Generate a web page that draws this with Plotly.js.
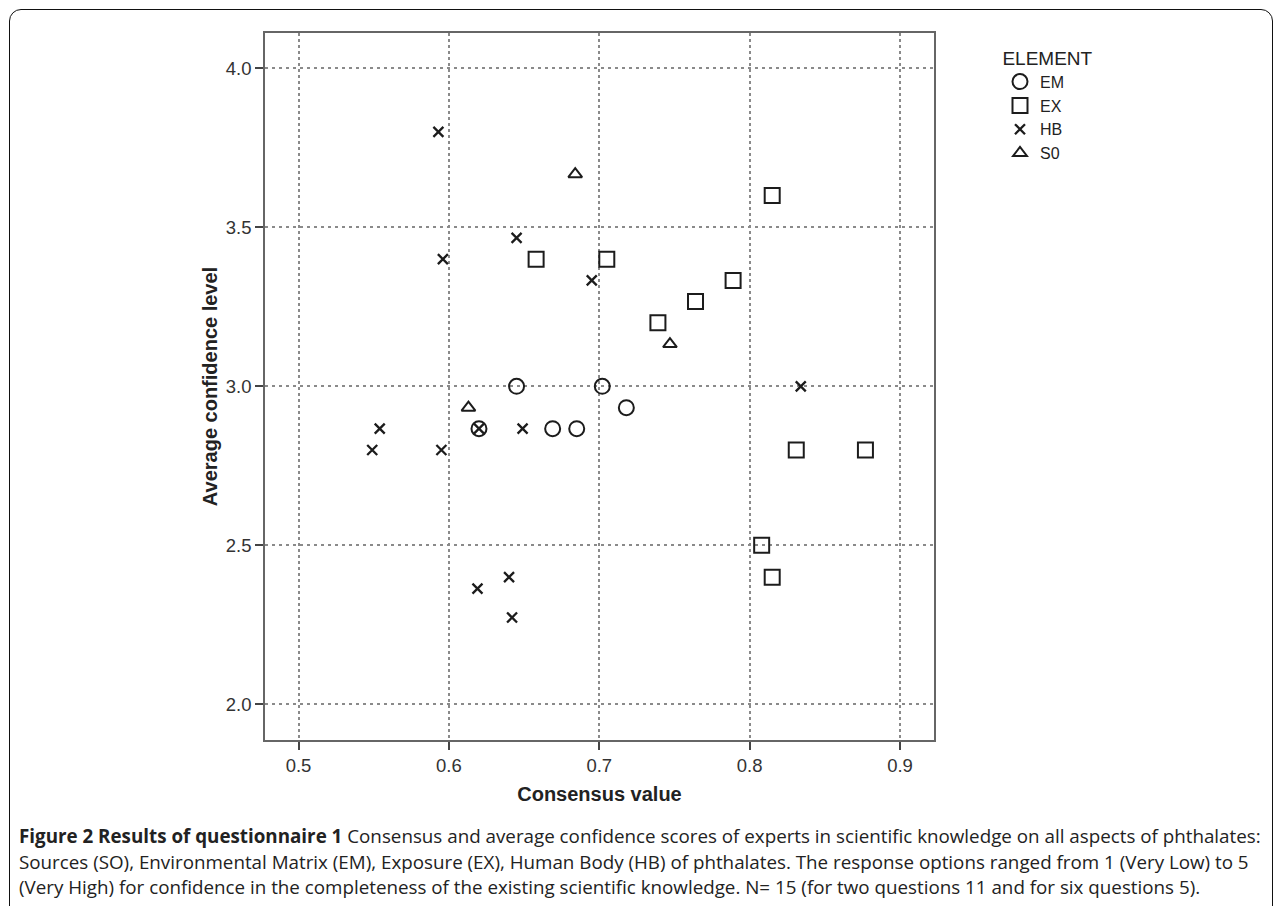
<!DOCTYPE html>
<html>
<head>
<meta charset="utf-8">
<script src="https://cdn.plot.ly/plotly-3.0.1.min.js"></script>
<style>
  html, body { margin: 0; padding: 0; width: 1282px; height: 906px; overflow: hidden; background: #fff; }
  #frame { position: absolute; left: 9px; top: 9px; width: 1264px; height: 1000px;
           border: 1.5px solid #111; border-radius: 12px; box-sizing: border-box; }
  #chart { position: absolute; left: 0; top: 0; width: 1282px; height: 906px; }
</style>
</head>
<body>
<div id="frame"></div>
<div id="chart"></div>
<script>
// ---- data ----
const emX = [0.645, 0.702, 0.718, 0.620, 0.669, 0.685];
const emY = [3.0, 3.0, 2.933, 2.867, 2.867, 2.867];

const exX = [0.658, 0.705, 0.815, 0.789, 0.764, 0.739, 0.831, 0.877, 0.808, 0.815];
const exY = [3.4, 3.4, 3.6, 3.333, 3.267, 3.2, 2.8, 2.8, 2.5, 2.4];

const hbX = [0.593, 0.645, 0.596, 0.695, 0.834, 0.554, 0.620, 0.649, 0.549, 0.595, 0.640, 0.619, 0.642];
const hbY = [3.8, 3.467, 3.4, 3.333, 3.0, 2.867, 2.867, 2.867, 2.8, 2.8, 2.4, 2.364, 2.273];

const soX = [0.684, 0.747, 0.613];
const soY = [3.667, 3.133, 2.933];

const seriesNames = ['EM', 'EX', 'HB', 'S0'];
const xTickVals = [0.5, 0.6, 0.7, 0.8, 0.9];
const yTickVals = [2.0, 2.5, 3.0, 3.5, 4.0];

const xTitle = 'Consensus value';
const yTitle = 'Average confidence level';
const legendTitle = 'ELEMENT';
const captionBold = 'Figure 2 Results of questionnaire 1';
const captionLine1 = ' Consensus and average confidence scores of experts in scientific knowledge on all aspects of phthalates:';
const captionLine2 = 'Sources (SO), Environmental Matrix (EM), Exposure (EX), Human Body (HB) of phthalates. The response options ranged from 1 (Very Low) to 5';
const captionLine3 = '(Very High) for confidence in the completeness of the existing scientific knowledge. N= 15 (for two questions 11 and for six questions 5).';

// ---- layout helpers ----
const W = 1282, H = 906;
const M = { l: 265, r: W - 934, t: 33, b: H - 740 };
const plotW = W - M.l - M.r, plotH = H - M.t - M.b;
const px2x = p => (p - M.l) / plotW;
const px2y = p => (H - M.b - p) / plotH;

const ink = '#1c1c1c';
const axisFont = 'Liberation Sans, Arial, Helvetica, sans-serif';
const capFont = 'Open Sans, Noto Sans, sans-serif';

function tr(name, x, y, symbol, size, lw) {
  return {
    type: 'scatter', mode: 'markers', name: name, x: x, y: y,
    marker: { symbol: symbol, size: size, color: ink, line: { color: ink, width: lw } },
    hoverinfo: 'x+y+name'
  };
}

const data = [
  tr(seriesNames[0], emX, emY, 'circle-open', 15, 2),
  tr(seriesNames[1], exX, exY, 'square-open', 15, 2),
  tr(seriesNames[2], hbX, hbY, 'x-thin-open', 10, 2.3),
  tr(seriesNames[3], soX, soY, 'triangle-up-open', 12, 2)
];

const layout = {
  width: W, height: H,
  margin: M,
  paper_bgcolor: 'rgba(0,0,0,0)',
  plot_bgcolor: '#ffffff',
  showlegend: true,
  legend: {
    x: px2x(1000), y: px2y(40), xanchor: 'left', yanchor: 'top',
    bgcolor: 'rgba(0,0,0,0)',
    font: { family: axisFont, size: 16, color: '#222' },
    title: { text: legendTitle, side: 'top center', font: { family: axisFont, size: 19, color: '#222' } },
    tracegroupgap: 0, itemwidth: 30
  },
  xaxis: {
    range: [0.4777, 0.9226],
    tickvals: xTickVals, tickformat: '.1f',
    showgrid: true, gridcolor: '#8a8a8a', gridwidth: 1.5, griddash: 'dot',
    zeroline: false,
    showline: true, mirror: true, linecolor: '#666', linewidth: 1.5,
    ticks: 'outside', ticklen: 8, tickwidth: 1.5, tickcolor: '#444',
    tickfont: { family: axisFont, size: 18.5, color: '#333' },
    title: { text: xTitle, standoff: 12, font: { family: axisFont, size: 20, color: '#222', weight: 'bold' } },
    automargin: false
  },
  yaxis: {
    range: [1.888, 4.111],
    tickvals: yTickVals, tickformat: '.1f',
    showgrid: true, gridcolor: '#8a8a8a', gridwidth: 1.5, griddash: '3px,4px',
    zeroline: false,
    showline: true, mirror: true, linecolor: '#666', linewidth: 1.5,
    ticks: 'outside', ticklen: 8, tickwidth: 1.5, tickcolor: '#444',
    tickfont: { family: axisFont, size: 18.5, color: '#333' },
    title: { text: yTitle, standoff: 3, font: { family: axisFont, size: 20, color: '#222', weight: 'bold' } },
    automargin: false
  },
  annotations: [
    { xref: 'paper', yref: 'paper', x: px2x(17), y: px2y(836), xanchor: 'left', yanchor: 'middle',
      showarrow: false, align: 'left',
      text: '<b>' + captionBold + '</b>' + captionLine1,
      font: { family: capFont, size: 18.8, color: '#222' } },
    { xref: 'paper', yref: 'paper', x: px2x(17), y: px2y(862), xanchor: 'left', yanchor: 'middle',
      showarrow: false, align: 'left', text: captionLine2,
      font: { family: capFont, size: 18.8, color: '#222' } },
    { xref: 'paper', yref: 'paper', x: px2x(17), y: px2y(887), xanchor: 'left', yanchor: 'middle',
      showarrow: false, align: 'left', text: captionLine3,
      font: { family: capFont, size: 18.8, color: '#222' } }
  ]
};

Plotly.newPlot('chart', data, layout, { displayModeBar: false });
</script>
</body>
</html>
